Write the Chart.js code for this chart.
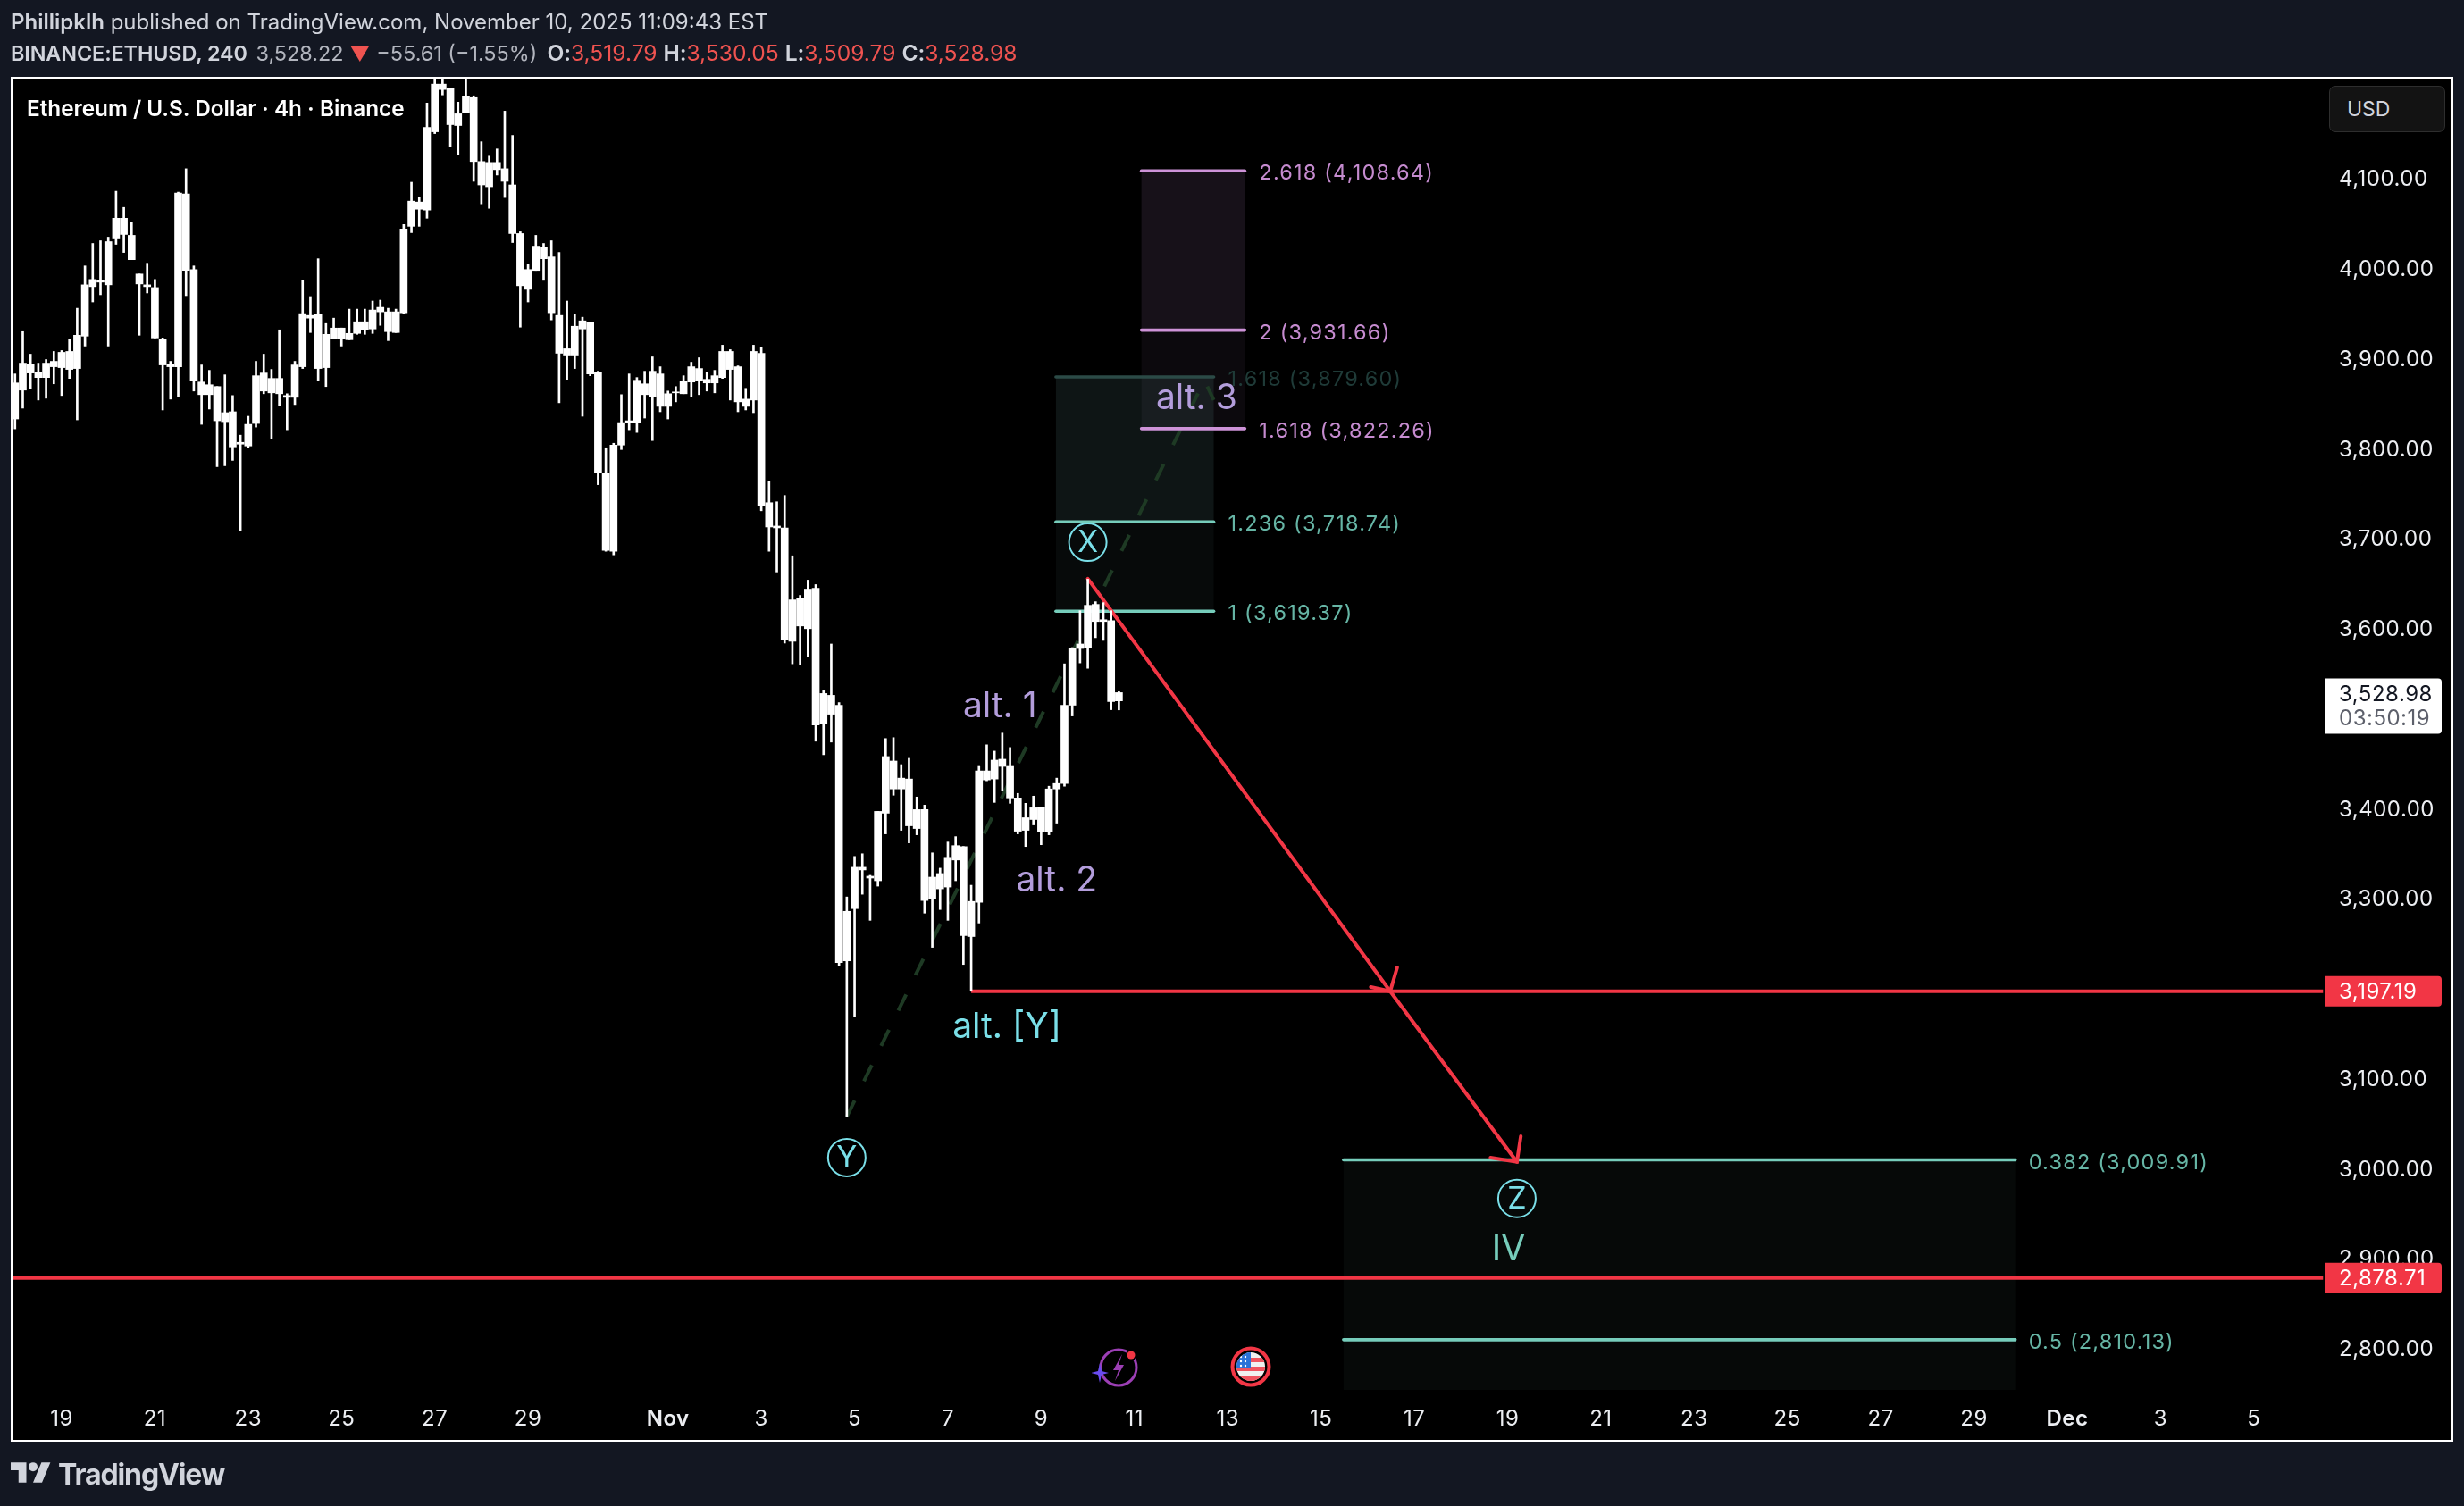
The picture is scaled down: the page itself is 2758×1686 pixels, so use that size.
<!DOCTYPE html>
<html>
<head>
<meta charset="utf-8">
<title>ETHUSD 240</title>
<script src="https://cdn.jsdelivr.net/npm/chart.js@4/dist/chart.umd.min.js"></script>
<style>
  html, body { margin: 0; padding: 0; background: #131722; }
  body { position: relative; width: 2758px; height: 1686px; overflow: hidden; font-family: Inter, sans-serif; }
  .abs { position: absolute; white-space: nowrap; }
  #panel { left: 12px; top: 86px; width: 2734px; height: 1528px; box-sizing: border-box; border: 2px solid #fff; background: #000; }
  #chart { position: absolute; left: 0; top: 0; }
  #line1 { left: 12px; top: 11px; font-size: 24px; line-height: 28px; color: #d1d4dc; }
  #line2 { left: 12px; top: 45px; font-size: 23.4px; line-height: 28px; color: #b2b5be; }
  #line2 .close { margin-left: -3.5px; }
  #line2 .ohlc { font-size: 24.6px; margin-left: -2px; }
  b { font-weight: 600; color: #d1d4dc; }
  #line2 b { letter-spacing: -0.1px; }
  .red { color: #ef5350; }
  #title { left: 30px; top: 106px; font-size: 24.3px; line-height: 30px; font-weight: 600; color: #fff; }
  #usd { left: 2607px; top: 96px; width: 130px; height: 52px; box-sizing: border-box; border: 1px solid #2e2e2e; border-radius: 7px; background: #131313; color: #d1d4dc; font-size: 23px; line-height: 50px; padding-left: 19px; }
  #brand { left: 65px; top: 1629px; font-size: 32px; line-height: 44px; font-weight: 700; letter-spacing: -1.1px; color: #d1d4dc; }
</style>
</head>
<body>
<div class="abs" id="panel"></div>
<canvas id="chart" width="2758" height="1686"></canvas>
<div class="abs" id="line1"><b>Phillipklh</b> published on TradingView.com, November 10, 2025 11:09:43 EST</div>
<div class="abs" id="line2"><b>BINANCE:ETHUSD, 240</b>&nbsp; <span class="close">3,528.22</span> <span class="red">▼</span> −55.61 (−1.55%) &nbsp;<span class="ohlc"><b>O:</b><span class="red">3,519.79</span> <b>H:</b><span class="red">3,530.05</span> <b>L:</b><span class="red">3,509.79</span> <b>C:</b><span class="red">3,528.98</span></span></div>
<div class="abs" id="title">Ethereum / U.S. Dollar · 4h · Binance</div>
<div class="abs" id="usd">USD</div>
<div class="abs" id="brand">TradingView</div>

<svg class="abs" style="left:12px;top:1637px" width="45" height="24" viewBox="0 4 36 19"><path fill="#d1d4dc" d="M14 22H7V11H0V4h14v18zM28 22h-8l7.5-18h8L28 22z"/><circle fill="#d1d4dc" cx="20" cy="8" r="4"/></svg>

<svg class="abs" style="left:1222px;top:1506px" width="56" height="50" viewBox="0 0 56 50">
  <circle cx="30" cy="25" r="20" fill="#000" stroke="#9c3fb5" stroke-width="3"/>
  <path d="M34 10 L24 28 L30 28 L26 40 L36 22 L30 22 Z" fill="#9c3fb5"/>
  <circle cx="44" cy="11" r="6" fill="#000"/><circle cx="44" cy="11" r="4.5" fill="#f23645"/>
  <path d="M9 20 L11 29 L19 31 L11 33 L9 42 L7 33 L-1 31 L7 29 Z" fill="#6a4cf0"/>
</svg>
<svg class="abs" style="left:1377px;top:1507px" width="46" height="46" viewBox="0 0 46 46">
  <defs><clipPath id="disc"><circle cx="23" cy="23" r="16"/></clipPath></defs>
  <circle cx="23" cy="23" r="20.5" fill="#000" stroke="#f23645" stroke-width="4"/>
  <g clip-path="url(#disc)">
    <rect x="7" y="7" width="32" height="32" fill="#f0f0f0"/>
    <rect x="7" y="13" width="32" height="5" fill="#f0535f"/>
    <rect x="7" y="23" width="32" height="5" fill="#f0535f"/>
    <rect x="7" y="33" width="32" height="6" fill="#f0535f"/>
    <rect x="7" y="7" width="16" height="18" fill="#2a72d8"/>
    <g fill="#fff"><circle cx="12" cy="12" r="1.2"/><circle cx="17" cy="12" r="1.2"/><circle cx="12" cy="17" r="1.2"/><circle cx="17" cy="17" r="1.2"/><circle cx="12" cy="22" r="1.2"/><circle cx="17" cy="22" r="1.2"/></g>
  </g>
</svg>

<script>
// 4h candles, bar 0 = Oct 19 00:00, first visible bar = -6. all candles are white in the picture
const firstBar = -6;
const highs = [
  3883,3930,3905,3895,3899,3908,3909,3922,3956,4003,
  4028,4031,4035,4086,4068,4051,3994,4006,3988,3923,
  3897,4085,4111,4003,3893,3887,3869,3882,3859,3815,
  3836,3897,3905,3888,3932,3861,3897,3987,3969,4011,
  3939,3945,3934,3955,3955,3955,3964,3965,3956,3955,
  4049,4096,4079,4184,4219,4219,4200,4185,4219,4192,
  4141,4125,4133,4175,4148,4041,4005,4037,4028,4031,
  4018,3964,3949,3946,3940,3886,3801,3806,3860,3883,
  3879,3886,3902,3891,3864,3869,3881,3896,3901,3885,
  3887,3915,3910,3892,3867,3915,3913,3764,3741,3748,
  3681,3637,3654,3649,3531,3583,3518,3302,3347,3350,
  3326,3397,3478,3479,3449,3456,3413,3404,3351,3334,
  3363,3369,3358,3315,3448,3471,3464,3484,3468,3417,
  3406,3414,3402,3425,3434,3561,3579,3620,3655,3630,
  3629,3620,3530.05
];
const bodyHighs = [
  3873,3895,3894,3885,3895,3897,3907,3908,3926,3982,
  3988,3987,4030,4056,4056,4037,3994,3982,3979,3922,
  3894,4084,4083,3999,3874,3871,3869,3840,3841,3807,
  3827,3881,3884,3878,3878,3859,3893,3950,3948,3949,
  3927,3934,3934,3928,3941,3941,3954,3957,3952,3952,
  4044,4075,4074,4157,4205,4205,4200,4172,4191,4190,
  4119,4118,4118,4111,4093,4039,3999,4025,4024,4013,
  3948,3911,3936,3942,3940,3885,3773,3804,3829,3831,
  3876,3872,3886,3883,3861,3863,3875,3891,3889,3877,
  3881,3908,3908,3891,3855,3908,3906,3740,3714,3712,
  3632,3634,3644,3645,3528,3526,3515,3286,3335,3335,
  3325,3397,3458,3453,3434,3433,3399,3399,3324,3328,
  3346,3359,3358,3297,3442,3442,3454,3455,3448,3412,
  3390,3401,3402,3422,3428,3515,3578,3583,3626,3627,
  3610,3609,3528.98
];
const bodyLows = [
  3833,3865,3884,3879,3879,3891,3890,3888,3889,3925,
  3980,3985,3982,4033,4038,4010,3983,3980,3923,3893,
  3891,3891,3998,3875,3860,3860,3831,3830,3802,3805,
  3803,3828,3864,3862,3861,3857,3857,3891,3945,3889,
  3890,3922,3922,3921,3928,3932,3933,3952,3930,3929,
  3951,4047,4066,4065,4152,4199,4160,4159,4173,4119,
  4093,4091,4110,4097,4039,3981,3977,3998,4011,3951,
  3906,3904,3904,3933,3883,3773,3687,3686,3804,3829,
  3829,3860,3858,3847,3847,3862,3861,3874,3876,3873,
  3873,3879,3888,3852,3847,3854,3737,3713,3712,3588,
  3586,3603,3600,3493,3495,3505,3229,3231,3289,3332,
  3323,3320,3395,3422,3422,3381,3378,3298,3300,3311,
  3313,3343,3259,3258,3296,3432,3433,3447,3412,3375,
  3376,3388,3374,3374,3422,3428,3515,3578,3579,3608,
  3608,3519,3519.79
];
const lows = [
  3822,3845,3867,3854,3856,3872,3859,3878,3832,3914,
  3963,3971,3914,4027,4018,4010,3926,3973,3923,3843,
  3855,3858,3970,3864,3827,3844,3780,3781,3787,3709,
  3801,3824,3861,3811,3848,3821,3849,3889,3929,3876,
  3869,3922,3914,3921,3927,3927,3928,3937,3920,3929,
  3950,4040,4047,4056,4150,4193,4135,4127,4173,4097,
  4072,4067,4104,4079,4029,3935,3963,3998,3987,3943,
  3851,3877,3889,3836,3881,3760,3686,3682,3799,3821,
  3818,3834,3809,3841,3833,3852,3861,3858,3860,3864,
  3862,3878,3854,3841,3843,3840,3731,3686,3663,3584,
  3561,3560,3569,3475,3460,3474,3225,3058,3169,3305,
  3276,3314,3372,3415,3376,3362,3371,3284,3246,3288,
  3276,3320,3227,3197.19,3273,3431,3407,3420,3406,3372,
  3358,3382,3360,3371,3384,3425,3503,3562,3556,3590,
  3587,3510,3509.79
];

// axes
const priceTicks = [2800,2900,3000,3100,3200,3300,3400,3500,3600,3700,3800,3900,4000,4100];
const dateBars = [0,12,24,36,48,60,78,90,102,114,126,138,150,162,174,186,198,210,222,234,246,258,270,282];
const dateLabels = ['19','21','23','25','27','29','Nov','3','5','7','9','11','13','15','17','19','21','23','25','27','29','Dec','3','5'];
const priceMin = 2754.4, priceMax = 4211.1, barMin = -6.32, barMax = 291.1;

// fib tools
const fibUpperBars = [127.9, 148.2];
const fibUpperPrices = [3619.37, 3718.74, 3879.60];
const fibUpperTexts = ['1 (3,619.37)', '1.236 (3,718.74)', '1.618 (3,879.60)'];
const fibExtBars = [138.9, 152.2];
const fibExtPrices = [3822.26, 3931.66, 4108.64];
const fibExtTexts = ['1.618 (3,822.26)', '2 (3,931.66)', '2.618 (4,108.64)'];
const fibLowerBars = [164.9, 251.3];
const fibLowerPrices = [3009.91, 2810.13];
const fibLowerTexts = ['0.382 (3,009.91)', '0.5 (2,810.13)'];

// red lines and the projected path
const levelPrices = [3197.19, 2878.71];
const levelStarts = [117, barMin];
const levelEnd = 290.9;
const pathBars = [132, 170.9, 187.2], pathPrices = [3655.5, 3197.19, 3007.7];
const arrowOneBars = [171.8, 170.9, 168.4], arrowOnePrices = [3223.8, 3197.19, 3201.9];
const arrowTwoBars = [187.7, 187.2, 183.8], arrowTwoPrices = [3036.2, 3007.7, 3012.4];
const dashBars = [101, 147, 148.2], dashPrices = [3058, 3876, 3854];

// wave marks
const waveTexts = ['alt. 1', 'alt. 2', 'alt. 3', 'alt. [Y]', 'IV'];
const waveBars = [120.7, 128, 146, 121.6, 186.1];
const wavePrices = [3516.5, 3323, 3859, 3160, 2913];
const circleTexts = ['X', 'Y', 'Z'];
const circleBars = [132, 101, 187.2];
const circlePrices = [3697, 3013.5, 2968];

const PURPLE = '#ce93d8', RED = '#f23645';
const xy = (xs, ys) => xs.map((x, i) => ({x, y: ys[i]}));
const lineSet = (data, color, width, extra) => Object.assign({
  type: 'line', data, borderColor: color, borderWidth: width, pointRadius: 0,
  tension: 0, borderCapStyle: 'round', order: 5
}, extra);

const fibLines = (bars, prices, color, dimIdx) => prices.map((p, i) =>
  lineSet(xy(bars, [p, p]), i === dimIdx ? '#2b4a46' : color, 3.6));

const datasets = [
  {
    type: 'bar', label: 'body', order: 0, grouped: false, barThickness: 8,
    backgroundColor: '#ffffff', borderWidth: 0,
    data: bodyHighs.map((h, i) => ({x: firstBar + i, y: [bodyLows[i], h]}))
  },
  {
    type: 'bar', label: 'wick', order: 1, grouped: false, barThickness: 2,
    backgroundColor: '#ffffff', borderWidth: 0,
    data: highs.map((h, i) => ({x: firstBar + i, y: [lows[i], h]}))
  },
  lineSet(xy(pathBars, pathPrices), RED, 4, {order: 2}),
  lineSet(xy(arrowOneBars, arrowOnePrices), RED, 4, {order: 2}),
  lineSet(xy(arrowTwoBars, arrowTwoPrices), RED, 4, {order: 2}),
  ...levelPrices.map((p, i) => lineSet(xy([levelStarts[i], levelEnd], [p, p]), RED, 4, {order: 3, borderCapStyle: 'butt'})),
  lineSet(xy(dashBars, dashPrices), '#1e3a24', 4, {borderDash: [20, 24], borderCapStyle: 'butt', order: 6}),
  ...fibLines(fibUpperBars, fibUpperPrices, '#76cdbb', 2),
  ...fibLines(fibExtBars, fibExtPrices, PURPLE, -1),
  ...fibLines(fibLowerBars, fibLowerPrices, '#76cdbb', -1)
];

const fibFills = {
  id: 'fibFills',
  // canvas state gets reset on resize so the spacing goes here
  beforeDraw(chart) { chart.ctx.letterSpacing = '0.5px'; },
  beforeDatasetsDraw(chart) {
    const {ctx, chartArea, scales: {x, y}} = chart;
    const box = (bars, top, bottom, color) => {
      ctx.fillStyle = color;
      ctx.fillRect(x.getPixelForValue(bars[0]), y.getPixelForValue(top),
        x.getPixelForValue(bars[1]) - x.getPixelForValue(bars[0]),
        y.getPixelForValue(bottom) - y.getPixelForValue(top));
    };
    ctx.save();
    ctx.beginPath();
    ctx.rect(chartArea.left, chartArea.top, chartArea.width, chartArea.height);
    ctx.clip();
    box(fibExtBars, fibExtPrices[2], fibExtPrices[1], 'rgba(206,147,216,0.115)');
    box(fibExtBars, fibExtPrices[1], fibExtPrices[0], 'rgba(206,147,216,0.06)');
    box(fibUpperBars, fibUpperPrices[2], fibUpperPrices[1], 'rgba(128,203,196,0.105)');
    box(fibUpperBars, fibUpperPrices[1], fibUpperPrices[0], 'rgba(128,203,196,0.05)');
    box(fibLowerBars, fibLowerPrices[0], priceMin, 'rgba(128,203,196,0.045)');
    ctx.restore();
  }
};

const overlays = {
  id: 'overlays',
  afterDraw(chart) {
    const {ctx, chartArea, scales: {x, y}} = chart;
    ctx.save();
    ctx.textBaseline = 'middle';

    // fib level labels
    const fibText = (bars, prices, texts, color, dimIdx, gap) => {
      ctx.font = '23.5px Inter';
      ctx.textAlign = 'left';
      prices.forEach((p, i) => {
        ctx.fillStyle = i === dimIdx ? '#1f3b38' : color;
        ctx.fillText(texts[i], x.getPixelForValue(bars[1]) + gap, y.getPixelForValue(p) + 3);
      });
    };
    ctx.letterSpacing = '1.2px';
    fibText(fibUpperBars, fibUpperPrices, fibUpperTexts, '#66b5a5', 2, 16);
    fibText(fibExtBars, fibExtPrices, fibExtTexts, '#c58bcf', -1, 16);
    fibText(fibLowerBars, fibLowerPrices, fibLowerTexts, '#66b5a5', -1, 15);

    // wave labels
    ctx.letterSpacing = '0px';
    ctx.textAlign = 'center';
    ctx.font = '39px Inter';
    waveTexts.forEach((t, i) => {
      ctx.fillStyle = i === 3 ? '#7adfe8' : i === 4 ? '#76cdbb' : '#b39ddb';
      ctx.fillText(t, x.getPixelForValue(waveBars[i]), y.getPixelForValue(wavePrices[i]) + 3);
    });
    ctx.font = '34px Inter';
    ctx.strokeStyle = ctx.fillStyle = '#7adfe8';
    ctx.lineWidth = 2;
    circleTexts.forEach((t, i) => {
      const px = x.getPixelForValue(circleBars[i]), py = y.getPixelForValue(circlePrices[i]) + 1;
      ctx.beginPath();
      ctx.arc(px, py, 21, 0, Math.PI * 2);
      ctx.stroke();
      ctx.fillText(t, px, py + 1);
    });

    // price tags on the axis
    const tag = (price, top, h, fill) => {
      ctx.fillStyle = fill;
      ctx.beginPath();
      ctx.roundRect(chartArea.right, y.getPixelForValue(price) + top, 131, h, [0, 4, 4, 0]);
      ctx.fill();
    };
    ctx.letterSpacing = '0.5px';
    ctx.font = '24px Inter';
    ctx.textAlign = 'left';
    levelPrices.forEach(p => {
      tag(p, -17, 34, RED);
      ctx.fillStyle = '#fff';
      ctx.fillText(p.toLocaleString('en-US', {minimumFractionDigits: 2}), 2618, y.getPixelForValue(p) + 1);
    });
    const last = bodyHighs[bodyHighs.length - 1];
    tag(last, -16, 62, '#fff');
    ctx.fillStyle = '#131722';
    ctx.fillText(last.toLocaleString('en-US', {minimumFractionDigits: 2}), 2618, y.getPixelForValue(last) + 2);
    ctx.fillStyle = '#5d606b';
    ctx.fillText('03:50:19', 2618, y.getPixelForValue(last) + 29);
    ctx.restore();
  }
};

Chart.defaults.font.family = 'Inter';

new Chart(document.getElementById('chart'), {
  type: 'bar',
  data: {datasets},
  plugins: [fibFills, overlays],
  options: {
    responsive: false,
    devicePixelRatio: 1,
    animation: false,
    events: [],
    layout: {padding: {left: 14, top: 88, right: 13, bottom: 73}},
    plugins: {legend: {display: false}, tooltip: {enabled: false}},
    scales: {
      x: {
        type: 'linear', min: barMin, max: barMax, offset: false,
        grid: {display: false, drawTicks: false}, border: {display: false},
        afterFit: s => { s.height = 57; },
        afterBuildTicks: s => { s.ticks = dateBars.map(value => ({value})); },
        ticks: {
          autoSkip: false, maxRotation: 0, padding: 18, color: '#eceef2',
          font: c => ({size: 24, family: 'Inter', weight: /[A-Z]/.test(dateLabels[c.index] || '') ? '600' : '400'}),
          callback: (v, i) => dateLabels[i]
        }
      },
      y: {
        type: 'linear', position: 'right', min: priceMin, max: priceMax,
        grid: {display: false, drawTicks: false}, border: {display: false},
        afterFit: s => { s.width = 143; },
        afterBuildTicks: s => { s.ticks = priceTicks.map(value => ({value})); },
        ticks: {
          autoSkip: false, padding: 16, crossAlign: 'near', labelOffset: 1, color: '#eceef2',
          font: {size: 24, family: 'Inter'},
          callback: v => v.toLocaleString('en-US', {minimumFractionDigits: 2})
        }
      }
    }
  }
});
</script>
</body>
</html>
